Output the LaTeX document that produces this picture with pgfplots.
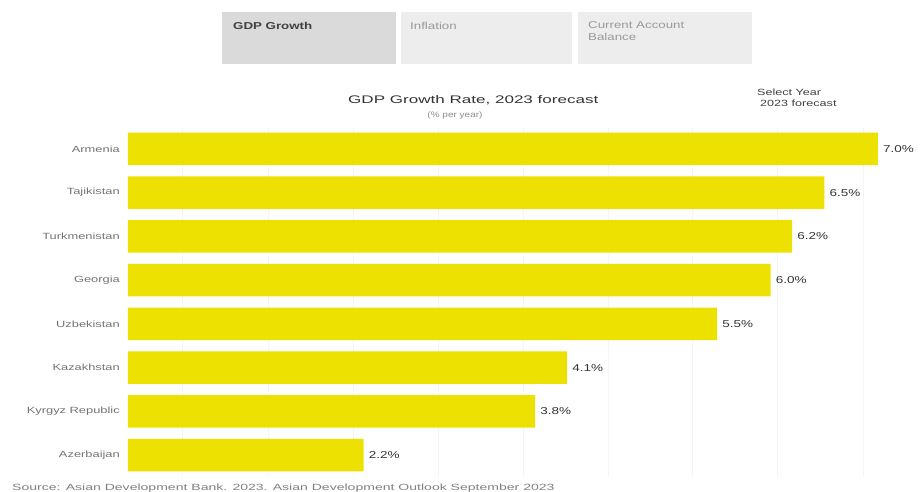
\documentclass[border=0pt]{standalone}
\usepackage{fontspec}
\setmainfont{Liberation Sans}
\usepackage{graphicx}
\usepackage{pgfplots}
\pgfplotsset{compat=1.18}
\definecolor{baryellow}{HTML}{ECE100}
\definecolor{tabdark}{HTML}{DADADA}
\definecolor{tablight}{HTML}{EDEDED}
\newcommand{\sx}[2]{\scalebox{#1}[1]{#2}}
\begin{document}
\begin{tikzpicture}[x=1pt,y=1pt]
\path[use as bounding box] (0,0) rectangle (924,491);
% tabs
\fill[tabdark] (222,427) rectangle (396,479);
\fill[tablight] (401,427) rectangle (572,479);
\fill[tablight] (578,427) rectangle (752,479);
\node[anchor=west,inner sep=0pt,font=\fontsize{10}{12}\selectfont\bfseries,text=black!75] at (233,465) {\sx{1.33}{GDP Growth}};
\node[anchor=west,inner sep=0pt,font=\fontsize{10}{12}\selectfont,text=black!40] at (410,465) {\sx{1.33}{Inflation}};
\node[anchor=west,inner sep=0pt,font=\fontsize{10}{12}\selectfont,text=black!40] at (588,466) {\sx{1.33}{Current Account}};
\node[anchor=west,inner sep=0pt,font=\fontsize{10}{12}\selectfont,text=black!40] at (588,454) {\sx{1.33}{Balance}};
% titles
\node[anchor=west,inner sep=0pt,font=\fontsize{11}{13}\selectfont,text=black!80] at (348,391) {\sx{1.55}{GDP Growth Rate, 2023 forecast}};
\node[inner sep=0pt,font=\fontsize{8}{9}\selectfont,text=black!45] at (455,376) {\sx{1.25}{(\% per year)}};
\node[anchor=west,inner sep=0pt,font=\fontsize{9}{10}\selectfont,text=black!75] at (757,399) {\sx{1.4}{Select Year}};
\node[anchor=west,inner sep=0pt,font=\fontsize{9}{10}\selectfont,text=black!75] at (760,388) {\sx{1.4}{2023 forecast}};
% source
\node[anchor=base west,inner sep=0pt,font=\fontsize{9}{10}\selectfont,text=black!50] at (12,1) {\sx{1.56}{Source: Asian Development Bank. 2023. Asian Development Outlook September 2023}};
\begin{axis}[
  at={(128pt,14pt)}, anchor=south west,
  scale only axis, width=782pt, height=350pt,
  xbar, bar width=0.74,
  xmin=0, xmax=7.30,
  ymin=-0.5, ymax=7.5, y dir=reverse,
  ytick={0,...,7},
  yticklabels={\sx{1.43}{Armenia},\sx{1.43}{Tajikistan},\sx{1.43}{Turkmenistan},\sx{1.43}{Georgia},\sx{1.43}{Uzbekistan},\sx{1.43}{Kazakhstan},\sx{1.43}{Kyrgyz Republic},\sx{1.43}{Azerbaijan}},
  yticklabel style={font=\fontsize{9}{10}\selectfont,text=black!55,inner xsep=0pt},
  y tick label style={xshift=-8pt},
  xtick={0.51,1.31,2.10,2.90,3.69,4.48,5.27,6.06,6.86}, xticklabels={},
  xmajorgrids, major grid style={black!4},
  axis line style={draw=none},
  major tick length=0pt,
  /pgf/number format/assume math mode=true,
  nodes near coords={\sx{1.35}{\pgfmathprintnumber[fixed,fixed zerofill,precision=1]{\pgfplotspointmeta}\%}},
  nodes near coords style={font=\fontsize{10}{11}\selectfont,text=black!80,anchor=west,inner xsep=0pt,xshift=5pt},
  clip=false,
]
\addplot[fill=baryellow,draw=none] coordinates {
(7.0,0) (6.5,1) (6.2,2) (6.0,3) (5.5,4) (4.1,5) (3.8,6) (2.2,7)};
\end{axis}
\end{tikzpicture}
\end{document}
